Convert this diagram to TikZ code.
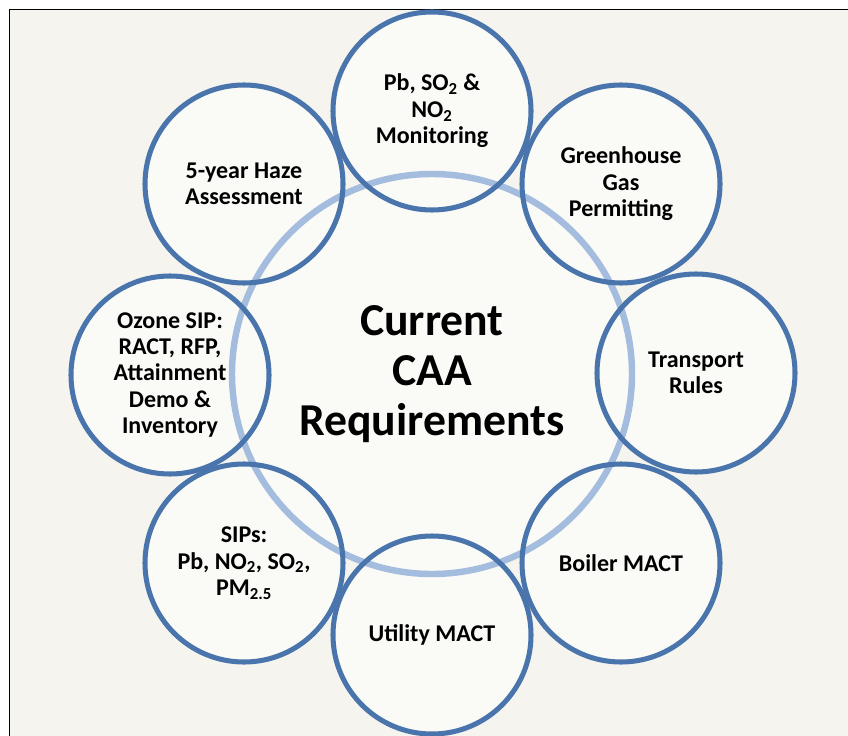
\documentclass[tikz,border=0pt]{standalone}
\usepackage{fontspec}
\setmainfont{Carlito}
\usepackage{tikz}

\definecolor{rimblue}{RGB}{74,117,172}
\definecolor{hazeblue}{RGB}{164,188,221}
\definecolor{disc}{RGB}{250,250,247}
\definecolor{paper}{RGB}{245,244,238}

\begin{document}
\begin{tikzpicture}[x=0.03cm, y=-0.03cm,
    topicnode/.style={circle, fill=disc, minimum size=5.94cm, inner sep=0pt, align=center,
        font=\fontsize{20.5}{22.6}\selectfont\bfseries},
    hubnode/.style={circle, fill=disc, minimum size=12cm, inner sep=0pt, align=center,
        font=\fontsize{39}{43}\selectfont\bfseries},
    rim/.style={draw=rimblue, line width=4.3pt},
    hubrim/.style={draw=hazeblue, line width=5.5pt}
    ]
        \useasboundingbox (0,0) rectangle (848,736);
        %Frame
        \fill[white] (0,0) rectangle (848,736);
        \fill[paper] (9.5,9.5) rectangle (848,736);
        \draw[line width=1.2pt] (9,9.5) -- (848,9.5);
        \draw[line width=1.2pt] (9.5,9.5) -- (9.5,736);

        %Nodes
        \node[hubnode]
            (caa) at (432,374) {Current\\CAA\\Requirements};
        \node[topicnode]
            (pb) at (432,111) {Pb, SO\textsubscript{2} \&\\NO\textsubscript{2}\\Monitoring};
        \node[topicnode]
            (ghg) at (621,184) {Greenhouse\\Gas\\Permitting};
        \node[topicnode]
            (trans) at (696,373) {Transport\\Rules};
        \node[topicnode]
            (boiler) at (621,563) {Boiler MACT};
        \node[topicnode]
            (util) at (432,635) {Utility MACT};
        \node[topicnode]
            (sips) at (244,563) {SIPs:\\Pb, NO\textsubscript{2}, SO\textsubscript{2},\\PM\textsubscript{2.5}};
        \node[topicnode]
            (ozone) at (170,375) {Ozone SIP:\\RACT, RFP,\\Attainment\\Demo \&\\Inventory};
        \node[topicnode]
            (haze) at (244,184) {5-year Haze\\Assessment};

        %Rims
        \draw[hubrim] (caa) circle[radius=6cm];
        \foreach \n in {pb,ghg,trans,boiler,util,sips,ozone,haze}
            \draw[rim] (\n) circle[radius=2.97cm];
    \end{tikzpicture}
\end{document}
